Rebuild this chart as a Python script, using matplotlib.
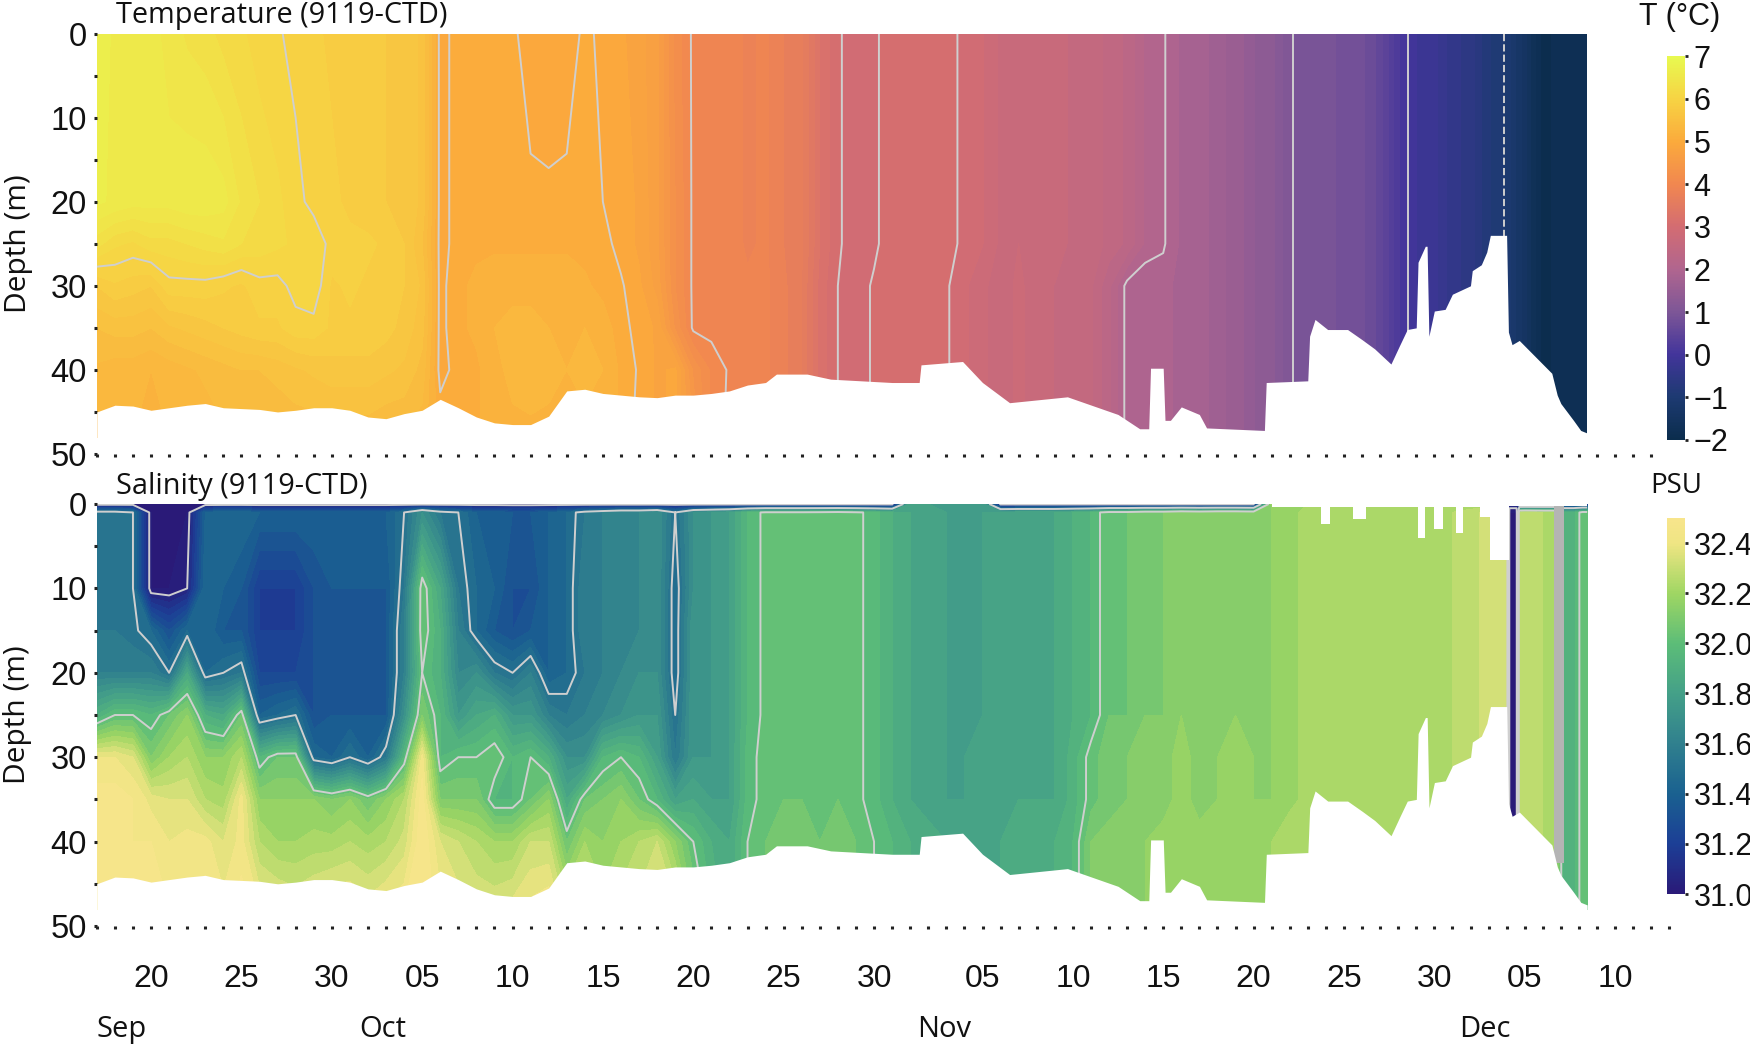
import numpy as np
import matplotlib
matplotlib.use("Agg")
import matplotlib.pyplot as plt
from matplotlib.cm import ScalarMappable
from matplotlib.colors import LinearSegmentedColormap, Normalize
from matplotlib.ticker import MultipleLocator

# days are counted from Sep 20
tick_days = [0, 5, 10, 15, 20, 25, 30, 35, 40, 46, 51, 56, 61, 66, 71, 76, 81]
tick_labels = ["20", "25", "30", "05", "10", "15", "20", "25", "30",
               "05", "10", "15", "20", "25", "30", "05", "10"]
months = ["Sep", "Oct", "Nov", "Dec"]
month_days = [-1.6, 12.8, 43.9, 73.8]

# temperature, Sep 17 - Oct 21 at each depth
t_depths = [0, 20, 25, 30, 35, 40, 48]
t_0 = [6.7, 6.6, 6.55, 6.55, 6.45, 6.35, 6.3, 6.2, 6.15, 6.05, 6.02, 5.95, 5.9, 5.85,
       5.85, 5.8, 5.75, 5.7, 5.6, 4.95, 5.05, 5.1, 5.05, 5.02, 4.95, 4.92, 4.95, 5.02,
       4.98, 4.9, 4.8, 4.65, 4.2, 3.97, 3.9]
t_20 = [6.65, 6.6, 6.55, 6.55, 6.55, 6.6, 6.6, 6.55, 6.35, 6.25, 6.15, 6.05, 5.95, 5.9,
        5.85, 5.8, 5.75, 5.7, 5.6, 4.95, 5.05, 5.1, 5.05, 5.05, 5.02, 5.02, 5.02, 5.05,
        5.0, 4.95, 4.85, 4.65, 4.25, 3.97, 3.9]
t_25 = [6.3, 6.15, 6.1, 6.2, 6.2, 6.25, 6.3, 6.35, 6.25, 6.2, 6.15, 6.1, 6.1, 5.95,
        5.9, 5.9, 5.85, 5.75, 5.5, 4.95, 5.05, 5.1, 5.1, 5.1, 5.1, 5.1, 5.1, 5.08,
        5.05, 4.95, 4.85, 4.65, 4.25, 3.97, 3.9]
t_30 = [5.75, 5.85, 5.8, 5.75, 5.95, 5.95, 5.95, 5.9, 5.85, 5.95, 5.95, 6.05, 6.1, 5.85,
        5.9, 5.85, 5.8, 5.75, 5.6, 4.95, 5.1, 5.15, 5.2, 5.2, 5.2, 5.2, 5.2, 5.15,
        5.08, 5.02, 4.9, 4.7, 4.25, 3.97, 3.9]
t_35 = [5.5, 5.55, 5.55, 5.5, 5.6, 5.65, 5.7, 5.75, 5.8, 5.85, 5.85, 5.95, 5.95, 5.85,
        5.85, 5.85, 5.8, 5.7, 5.55, 4.95, 5.1, 5.15, 5.25, 5.3, 5.3, 5.25, 5.25, 5.25,
        5.2, 5.05, 4.95, 4.85, 4.35, 3.97, 3.95]
t_40 = [5.35, 5.3, 5.3, 5.25, 5.3, 5.35, 5.4, 5.45, 5.5, 5.5, 5.55, 5.6, 5.65, 5.7,
        5.7, 5.7, 5.65, 5.6, 5.45, 4.95, 5.05, 5.1, 5.2, 5.3, 5.35, 5.3, 5.25, 5.3,
        5.25, 5.1, 4.98, 4.85, 4.9, 4.35, 4.1]
t_48 = [5.2, 5.2, 5.25, 5.2, 5.25, 5.3, 5.3, 5.35, 5.35, 5.35, 5.35, 5.4, 5.4, 5.4,
        5.4, 5.4, 5.35, 5.35, 5.3, 5.1, 5.05, 5.1, 5.2, 5.2, 5.2, 5.2, 5.2, 5.2,
        5.2, 5.1, 4.95, 4.85, 4.9, 4.5, 4.05]
# Oct 22 - Dec 8 plus the last sample, the water column is nearly uniform here
t_late_upper = [3.95, 3.85, 3.9, 3.75, 3.65, 3.25, 3.02, 2.93, 2.97, 3.08,
                3.12, 3.06, 3.08, 2.95, 2.88, 2.72, 2.75, 2.68, 2.72, 2.58,
                2.6, 2.45, 2.35, 2.1, 2.02, 1.85, 1.85, 1.65, 1.6, 1.38,
                1.3, 1.02, 0.92, 0.95, 0.82, 0.78, 0.58, 0.15, -0.12, -0.2,
                -0.45, -0.55, -0.85, -1.02, -1.45, -1.92, -1.82, -1.85, -1.75]
t_late_lower = [3.98, 3.9, 3.9, 3.78, 3.62, 3.2, 3.0, 2.93, 3.02, 3.1,
                3.12, 3.03, 3.02, 2.9, 2.78, 2.68, 2.78, 2.68, 2.62, 2.52,
                2.52, 2.28, 1.95, 1.88, 1.93, 1.82, 1.85, 1.65, 1.6, 1.38,
                1.3, 1.02, 0.92, 0.95, 0.82, 0.78, 0.58, 0.15, -0.12, -0.2,
                -0.45, -0.55, -0.85, -1.02, -1.45, -1.92, -1.82, -1.85, -1.75]
t_extra_days = [79.45]

# salinity, Sep 17 - Oct 21 at each depth
s_depths = [0, 1, 10, 15, 20, 25, 30, 35, 40, 48]
s_1 = [31.55, 31.55, 31.5, 31.0, 31.0, 31.0, 31.4, 31.45, 31.45, 31.4, 31.4, 31.4, 31.4, 31.4,
       31.4, 31.4, 31.4, 31.5, 31.7, 31.55, 31.5, 31.4, 31.4, 31.35, 31.35, 31.4, 31.45, 31.55,
       31.6, 31.65, 31.65, 31.7, 31.5, 31.7, 31.75]
s_10 = [31.55, 31.55, 31.5, 31.0, 31.0, 31.05, 31.45, 31.4, 31.35, 31.2, 31.2, 31.2, 31.3, 31.35,
        31.35, 31.35, 31.35, 31.55, 32.05, 31.85, 31.55, 31.45, 31.4, 31.3, 31.3, 31.4, 31.45, 31.6,
        31.6, 31.65, 31.65, 31.7, 31.45, 31.7, 31.75]
s_15 = [31.55, 31.55, 31.52, 31.45, 31.3, 31.45, 31.45, 31.35, 31.35, 31.2, 31.2, 31.2, 31.3, 31.35,
        31.35, 31.35, 31.35, 31.6, 32.05, 31.9, 31.6, 31.45, 31.35, 31.3, 31.35, 31.4, 31.45, 31.6,
        31.6, 31.65, 31.65, 31.7, 31.45, 31.75, 31.75]
s_20 = [31.6, 31.6, 31.6, 31.6, 31.5, 31.85, 31.45, 31.5, 31.55, 31.25, 31.25, 31.25, 31.3, 31.35,
        31.35, 31.35, 31.35, 31.6, 32.0, 31.9, 31.65, 31.7, 31.55, 31.5, 31.6, 31.4, 31.45, 31.55,
        31.6, 31.65, 31.7, 31.7, 31.45, 31.75, 31.75]
s_25 = [31.9, 32.0, 32.0, 31.95, 32.05, 32.15, 31.9, 31.85, 32.05, 31.4, 31.45, 31.5, 31.3, 31.35,
        31.35, 31.35, 31.35, 31.7, 32.1, 31.95, 31.75, 31.85, 31.9, 31.75, 31.75, 31.6, 31.55, 31.6,
        31.65, 31.7, 31.75, 31.75, 31.5, 31.75, 31.75]
s_30 = [32.4, 32.4, 32.35, 32.1, 32.2, 32.25, 32.15, 32.15, 32.25, 31.95, 32.05, 32.05, 31.45, 31.4,
        31.5, 31.4, 31.55, 31.95, 32.42, 31.95, 32.0, 32.0, 32.05, 31.95, 32.0, 31.9, 31.7, 31.7,
        31.95, 32.0, 31.95, 31.8, 31.55, 31.75, 31.75]
s_35 = [32.48, 32.48, 32.45, 32.38, 32.35, 32.35, 32.25, 32.22, 32.42, 32.15, 32.15, 32.15, 32.15, 32.1,
        32.15, 32.05, 32.15, 32.25, 32.48, 32.1, 32.1, 32.1, 31.95, 31.95, 32.05, 32.15, 31.85, 32.05,
        32.1, 32.15, 32.05, 31.95, 31.8, 31.85, 31.8]
s_40 = [32.48, 32.48, 32.45, 32.45, 32.4, 32.42, 32.42, 32.35, 32.42, 32.25, 32.2, 32.2, 32.22, 32.22,
        32.25, 32.22, 32.25, 32.32, 32.5, 32.35, 32.3, 32.25, 32.2, 32.2, 32.3, 32.3, 32.05, 32.2,
        32.15, 32.2, 32.25, 32.3, 32.15, 32.0, 31.9]
s_48 = [32.48, 32.48, 32.5, 32.48, 32.45, 32.45, 32.48, 32.42, 32.48, 32.4, 32.38, 32.35, 32.38, 32.42,
        32.42, 32.38, 32.42, 32.45, 32.5, 32.42, 32.38, 32.35, 32.35, 32.38, 32.42, 32.45, 32.28, 32.32,
        32.22, 32.28, 32.32, 32.38, 32.32, 32.1, 31.95]
# Oct 22 - Dec 3
s_late_upper = [31.8, 31.95, 32.02, 32.02, 32.02, 32.03, 32.05, 32.02, 31.97, 31.9,
                31.85, 31.82, 31.8, 31.8, 31.8, 31.82, 31.85, 31.85, 31.85, 31.9,
                31.95, 32.05, 32.05, 32.1, 32.1, 32.15, 32.12, 32.15, 32.15, 32.12,
                32.15, 32.18, 32.22, 32.25, 32.22, 32.22, 32.22, 32.22, 32.25, 32.25,
                32.25, 32.28, 32.32]
s_late_mid = [31.8, 31.97, 32.03, 32.05, 32.05, 32.05, 32.05, 32.02, 31.97, 31.9,
              31.85, 31.82, 31.8, 31.8, 31.82, 31.84, 31.85, 31.85, 31.85, 31.92,
              32.03, 32.08, 32.1, 32.12, 32.12, 32.18, 32.12, 32.15, 32.18, 32.15,
              32.15, 32.18, 32.22, 32.25, 32.22, 32.22, 32.22, 32.22, 32.25, 32.25,
              32.25, 32.28, 32.32]
s_late_low = [31.85, 32.0, 32.05, 32.08, 32.08, 32.05, 32.08, 32.05, 32.0, 31.95,
              31.9, 31.88, 31.85, 31.82, 31.82, 31.85, 31.88, 31.9, 31.9, 31.95,
              32.1, 32.12, 32.15, 32.15, 32.18, 32.15, 32.18, 32.2, 32.15, 32.18,
              32.2, 32.25, 32.25, 32.22, 32.22, 32.22, 32.22, 32.22, 32.25, 32.25,
              32.25, 32.28, 32.32]
# Dec 4 - Dec 8, sampled unevenly because of the narrow fresh column
s_tail_days = [75, 75.15, 75.55, 75.7, 76, 77, 77.5, 77.6, 78.15, 78.25, 78.7, 79.1, 79.2, 79.45]
s_tail = [32.32, 31.0, 31.0, 32.25, 32.28, 32.25, 32.25, 32.25, 31.92, 31.92, 31.92, 32.02, 32.05, 32.05]
s_surface = [31.0] * 35 + [31.0] * 10 + [31.8] * 5 + [31.0] * 15 + [32.2] * 13 + [31.1] * 14
s_gray_band = [77.6, 78.15]
s_gray_bottom = 42.5

# sea floor, shared by both panels
bottom_days = [-3, -2, -1, 0, 1, 2, 3, 4, 5, 6, 7, 8, 9, 10, 11, 12, 13, 14, 15, 16, 17, 18, 19, 20,
               21, 22, 23, 24, 25, 26, 27, 28, 29, 30, 31, 32, 33, 34, 34.6, 36.3, 37.6, 41, 42.5, 42.6,
               44.9, 46, 47.5, 50.7, 53.5, 54.7, 55.2, 55.3, 56, 56.1, 56.4, 57, 58, 58.4, 61.6, 61.7,
               64, 64.1, 64.4, 65.1, 66.2, 67, 67.7, 68.6, 69.1, 69.5, 70, 70.1, 70.5, 70.6, 70.7, 71,
               71.6, 72, 73, 73.1, 73.6, 73.9, 74.1, 75, 75.1, 75.3, 75.7, 76.9, 77.5, 77.8, 78, 78.7,
               79.1, 79.45]
bottom_depth = [45, 44.2, 44.3, 44.8, 44.5, 44.2, 44, 44.5, 44.6, 44.7, 45, 44.8, 44.5, 44.5, 44.8, 45.6,
                45.8, 45.2, 44.8, 43.5, 44.5, 45.6, 46.3, 46.5, 46.5, 45.5, 42.5, 42.3, 42.8, 43, 43.2,
                43.3, 43, 43, 42.8, 42.5, 41.8, 41.5, 40.5, 40.5, 41.1, 41.5, 41.5, 39.4,
                39, 41.5, 43.9, 43.2, 45.3, 47, 47, 39.8, 39.8, 46, 46, 44.4, 45.3, 46.9, 47.2, 41.5,
                41.3, 36, 34, 35.2, 35.2, 36.4, 37.5, 39.3, 37, 35.2, 35, 27.2, 25.3, 25.3, 36, 33,
                32.8, 31, 30, 28.2, 27.5, 26, 24, 24, 35.5, 37, 36.5, 39.1, 40.4, 43, 44, 46,
                47.2, 47.5]
# white gaps at the top of the salinity panel
gap_days = [-3, 62, 64.7, 65.2, 66.5, 67.2, 70.1, 70.5, 71, 71.5, 72.2, 72.6, 73.5, 74.1, 75.1, 79.45]
gap_depth = [0, 0.4, 2.4, 0.4, 1.8, 0.3, 4, 0.4, 3, 0.4, 3.4, 0.4, 1.5, 6.6, 0.2, 0.2]

t_ticks = [-2, -1, 0, 1, 2, 3, 4, 5, 6, 7]
s_ticks = [31.0, 31.2, 31.4, 31.6, 31.8, 32.0, 32.2, 32.4]
t_colors = ["#0b2d4d", "#1d3a72", "#43359b", "#7d5697", "#b0658f",
            "#d36c72", "#f18750", "#fbaa3c", "#f7d343", "#e8f950"]
s_colors = ["#2a1a78", "#1c3f96", "#1a6190", "#30808e", "#44a088",
            "#5cbd78", "#9fd663", "#efe583", "#f8e58c"]
s_stops = [31.0, 31.2, 31.4, 31.6, 31.8, 32.0, 32.2, 32.4, 32.5]

W, H = 1750, 1048
num_font = "Liberation Sans"
text_font = "Open Sans"
line_gray = "#cfcfcf"

thermal = LinearSegmentedColormap.from_list("thermal", t_colors)
haline = LinearSegmentedColormap.from_list(
    "haline", [((v - 31.0) / 1.5, c) for v, c in zip(s_stops, s_colors)])

t_days = np.concatenate([np.arange(-3, 80), t_extra_days])
s_days = np.concatenate([np.arange(-3, 75), s_tail_days])

T = np.array([
    t_0 + t_late_upper,
    t_20 + t_late_upper,
    t_25 + t_late_upper,
    t_30 + t_late_lower,
    t_35 + t_late_lower,
    t_40 + t_late_lower,
    t_48 + t_late_lower,
])
S = np.array([
    s_surface,
    s_1 + s_late_upper + s_tail,
    s_10 + s_late_upper + s_tail,
    s_15 + s_late_upper + s_tail,
    s_20 + s_late_upper + s_tail,
    s_25 + s_late_upper + s_tail,
    s_30 + s_late_mid + s_tail,
    s_35 + s_late_mid + s_tail,
    s_40 + s_late_low + s_tail,
    s_48 + s_late_low + s_tail,
])


def px_axes(fig, x0, x1, y0, y1):
    return fig.add_axes([x0 / W, 1 - y1 / H, (x1 - x0) / W, (y1 - y0) / H])


def style_axes(ax, xmax):
    ax.set_xlim(-3, xmax)
    ax.set_ylim(50, 0)
    for s in ax.spines.values():
        s.set_visible(False)
    ax.set_axisbelow(False)
    ax.set_yticks([0, 10, 20, 30, 40, 50])
    ax.yaxis.set_minor_locator(MultipleLocator(5))
    ax.xaxis.set_minor_locator(MultipleLocator(1))
    ax.set_xticks(tick_days)
    ax.tick_params(axis="both", which="both", length=2.2, width=2.2, color="#222222")
    ax.tick_params(axis="y", which="major", labelsize=23.5, pad=5, labelcolor="#111111")
    for lab in ax.get_yticklabels():
        lab.set_fontfamily(num_font)
    ax.set_ylabel("Depth (m)", fontsize=21.5, family=text_font, color="#111111")
    ax.yaxis.set_label_coords(-0.041, 0.5)


fig = plt.figure(figsize=(W / 100, H / 100), dpi=100)

# temperature panel
ax1 = px_axes(fig, 96.8, 1653, 33.5, 454)
ax1.contourf(t_days, t_depths, T, levels=np.arange(-2, 7.13, 0.125), cmap=thermal,
             norm=Normalize(-2, 7), extend="both", zorder=1)
ax1.contour(t_days, t_depths, T, levels=[-1, 0, 1, 2, 3, 4, 5, 6], colors=line_gray,
            linewidths=1.4, zorder=2)
ax1.fill_between(bottom_days, bottom_depth, 49.8, color="white", lw=0, zorder=3)
style_axes(ax1, 83.1)
ax1.tick_params(axis="x", which="both", labelbottom=False)
ax1.text((116 - 96.8) / (1653 - 96.8), 1.008, "Temperature (9119-CTD)", transform=ax1.transAxes,
         fontsize=20.8, family=text_font, color="#111111", va="bottom", ha="left")

# salinity panel
ax2 = px_axes(fig, 96.8, 1673, 504, 926)
ax2.contourf(s_days, s_depths, S, levels=np.arange(31.0, 32.56, 0.05), cmap=haline,
             norm=Normalize(31.0, 32.5), extend="both", zorder=1)
ax2.contour(s_days, s_depths, S, levels=[31.05, 31.5, 32.0], colors=line_gray,
            linewidths=1.4, zorder=2)
ax2.fill_betweenx([0, s_gray_bottom], s_gray_band[0], s_gray_band[1], color="#b4b4b4", lw=0, zorder=2)
ax2.fill_between(bottom_days, bottom_depth, 49.8, color="white", lw=0, zorder=3)
ax2.fill_between(gap_days, 0, gap_depth, step="post", color="white", lw=0, zorder=3)
style_axes(ax2, 84.2)
ax2.set_xticklabels(tick_labels, fontsize=23, family=num_font, color="#111111")
ax2.tick_params(axis="x", which="major", pad=25)
ax2.text((116 - 96.8) / (1673 - 96.8), 1.008, "Salinity (9119-CTD)", transform=ax2.transAxes,
         fontsize=20.8, family=text_font, color="#111111", va="bottom", ha="left")
for m, d in zip(months, month_days):
    ax2.text(d, -0.2464, m, transform=ax2.get_xaxis_transform(), fontsize=21,
             family=text_font, color="#111111", ha="center", va="center", clip_on=False)

# colour bars
cax1 = px_axes(fig, 1667, 1685, 56, 440)
cb1 = fig.colorbar(ScalarMappable(Normalize(-2, 7), thermal), cax=cax1, ticks=t_ticks)
cax2 = px_axes(fig, 1667, 1685, 518, 894)
cb2 = fig.colorbar(ScalarMappable(Normalize(31.0, 32.5), haline), cax=cax2, ticks=s_ticks)
cb2.ax.set_yticklabels(["%.1f" % v for v in s_ticks])
for cb in (cb1, cb2):
    cb.outline.set_visible(False)
    cb.ax.tick_params(length=2.2, width=2, labelsize=22, pad=4, color="#222222", labelcolor="#111111")
    for lab in cb.ax.get_yticklabels():
        lab.set_fontfamily(num_font)
fig.text(1639 / W, 1 - 17 / H, "T (°C)", fontsize=22, family=num_font, color="#111111",
         ha="left", va="center")
fig.text(1650 / W, 1 - 486 / H, "PSU", fontsize=20, family=text_font, color="#111111",
         ha="left", va="center")

fig.savefig("out.png", dpi=100)
